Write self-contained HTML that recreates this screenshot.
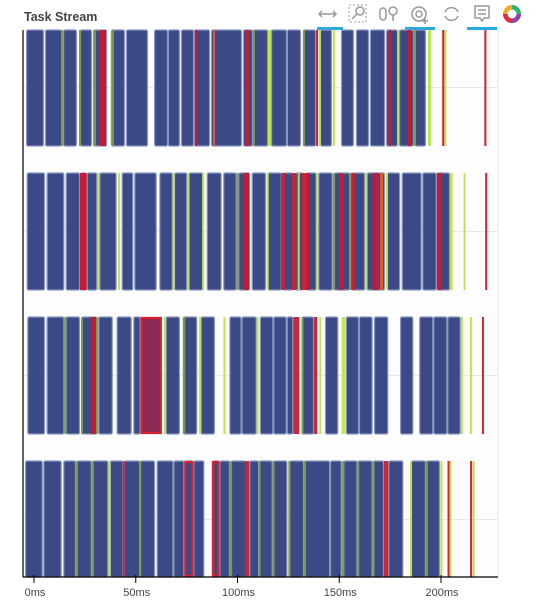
<!DOCTYPE html>
<html><head><meta charset="utf-8"><style>
body{margin:0;background:#fff;width:548px;height:610px;overflow:hidden;font-family:"Liberation Sans",sans-serif}
svg{display:block}
</style></head><body>
<svg id="chart" width="548" height="610" xmlns="http://www.w3.org/2000/svg">
<text x="24" y="21" font-size="12.5" font-weight="bold" fill="#444">Task Stream</text>
<g fill="none" stroke="#999" stroke-width="1.5">
 <g><line x1="319" y1="14" x2="336" y2="14"/><path d="M322 11 L319 14 L322 17 M333 11 L336 14 L333 17"/></g>
 <rect x="317" y="27" width="26" height="3" fill="#26aae1" stroke="none"/>
 <g><rect x="349" y="5" width="17" height="17" stroke-dasharray="2 2" stroke-width="1"/><circle cx="360" cy="11" r="4"/><line x1="357" y1="14" x2="352" y2="19"/></g>
 <g><rect x="380" y="8" width="6" height="12" rx="3"/><circle cx="393" cy="11" r="4"/><line x1="393" y1="15" x2="393" y2="21"/></g>
 <g><circle cx="419" cy="14" r="7"/><circle cx="419" cy="14" r="3"/><path d="M425 18 v6 M422 21 h6"/></g>
 <rect x="405" y="27" width="30" height="3" fill="#26aae1" stroke="none"/>
 <g><path d="M445 12 A7 7 0 0 1 458 12 M458 16 A7 7 0 0 1 445 16"/></g>
 <g><path d="M475 6 h14 v12 h-5 l-2 3 l-2 -3 h-5 z M478 10 h8 M478 14 h8"/></g>
 <rect x="467" y="27" width="30" height="3" fill="#26aae1" stroke="none"/>
 <g stroke="none">
  <circle cx="512" cy="14" r="9" fill="#f5a623"/><path d="M512 5 A9 9 0 0 1 521 14 L512 14Z" fill="#2bb673"/><path d="M521 14 A9 9 0 0 1 512 23 L512 14Z" fill="#8e44ad"/><path d="M512 23 A9 9 0 0 1 503 14 L512 14Z" fill="#e5283e"/><circle cx="512" cy="14" r="4.5" fill="#fff"/>
 </g>
</g>
<rect x="23" y="30" width="475" height="547" fill="#fdfdfd"/>
<line x1="498" y1="30" x2="498" y2="577" stroke="#e6e6e6"/>
<g id="grid"></g>
<g id="marks"></g>
<g id="axes"></g>
</svg>
<script>
const tickValues=[0,50,100,150,200];
const tickLabels=["0ms","50ms","100ms","150ms","200ms"];
const workers=["w0","w1","w2","w3"];
const blue0=[[-3.9,4.9],[5.4,13.8],[14.3,21.1],[22.6,28.5],[29,35.9],[37.8,44.7],[45.2,56],[59,65.8],[65.8,71.7],[72.2,78.6],[78.6,86.5],[87,102.2],[102.7,107.6],[107.6,115],[116.5,124.3],[124.3,131.2],[132.2,138.6],[140.5,146.4],[150.9,157.2],[158.2,164.6],[165.1,172.5],[173,178.9],[179.4,186.7],[187.2,192.6]];
const color0=[[13.3,14.1,"g"],[22.1,22.9,"g"],[29.5,30.3,"g"],[32.4,35.4,"r"],[38.3,39.1,"g"],[79.1,80.1,"r"],[88,89,"o"],[103.7,105.7,"r"],[107.6,108.4,"g"],[115,116.5,"l"],[132.2,133,"g"],[138.6,139.6,"r"],[140,141,"l"],[146.9,147.9,"l"],[174.2,175.4,"r"],[178.4,179.2,"l"],[183.8,185.3,"r"],[186.7,187.5,"g"],[193.6,195.1,"l"],[200.6,201.6,"r"],[201.7,202.5,"l"],[221.3,222.3,"r"]];
const blue1=[[-3.6,5.4],[6.2,14.9],[15.6,22.6],[22.6,25.9],[25.9,31.1],[32.1,40.6],[43.1,48.8],[49.3,60.3],[61.6,68.2],[68.8,75.3],[76,83.2],[84.9,92.2],[93,99.6],[100.4,106.1],[107,114],[114.6,121.7],[122.5,127.4],[128.3,132.3],[133.7,138.9],[139.7,146.8],[147.4,155.3],[156.1,162.7],[163.5,172.5],[173.3,179.9],[180.7,190.5],[190.8,197.9],[197.9,204.4]];
const color1=[[22.6,25.9,"r"],[31.1,31.9,"l"],[41.3,42.3,"l"],[68.2,69,"l"],[75.3,76.1,"l"],[82.6,83.6,"l"],[99.6,100.4,"g"],[102.7,105.7,"r"],[114.4,115.2,"l"],[121.4,123.3,"r"],[126.8,128.8,"r"],[129.6,130.4,"l"],[131.5,135.1,"r"],[138.6,139.4,"l"],[146.9,147.7,"g"],[149.9,151.8,"r"],[154.8,155.6,"g"],[155.8,157.7,"r"],[162.7,163.5,"l"],[166.4,169.2,"r"],[170,171.5,"o"],[173,173.8,"l"],[198,200.3,"r"],[204.4,205.7,"l"],[211.1,212.1,"l"],[221.7,222.7,"r"]];
const blue2=[[-3.3,5.4],[6.2,14.9],[15.6,22.6],[23.4,30.8],[31.6,38.7],[40.6,48],[48.8,52.4],[64.7,71.7],[73.1,80.2],[81.9,88.9],[96,102],[102,109.4],[111,117.6],[117.6,124.2],[124.2,127.4],[131.5,137.6],[143,149.5],[153.2,159.7],[159.7,166.4],[167.1,174.1],[179.9,186.4],[189.3,196.2],[196.2,203.1],[203.1,209.7]];
const color2=[[52.4,62.8,"m"],[14.9,15.7,"g"],[23.1,23.9,"g"],[27.9,30.5,"r"],[30.5,31.3,"g"],[63.9,64.7,"l"],[73.4,74.2,"g"],[81.1,81.9,"l"],[93.1,94.1,"l"],[109.4,110.2,"l"],[127.4,130.4,"r"],[131.5,132.3,"g"],[137.6,139.2,"r"],[140.2,141,"l"],[151.2,152.8,"l"],[209.8,210.8,"l"],[214.2,215.2,"l"],[220.1,221.1,"r"]];
const blue3=[[-4.4,4.3],[4.6,13.6],[14.4,20.6],[21,28.4],[28.8,36.5],[37.3,43.9],[44.2,52.1],[52.1,59.5],[60.3,68.5],[68.5,73.9],[73.9,78.3],[78.3,83.7],[87.6,91.1],[91.1,96.3],[96.8,104.2],[105.8,110.6],[110.6,117.3],[117.3,124.5],[125.5,132.7],[132.7,145.5],[145.5,151.2],[152,158.9],[158.9,166.4],[166.7,172],[174.1,181.5],[185.1,192.6],[192.6,199.5]];
const color3=[[73.9,78.3,"R"],[87.3,88.1,"o"],[87.6,91.1,"R"],[103.7,105.8,"r"],[172,174.1,"r"],[20.6,21.4,"g"],[28.4,29.2,"g"],[36.6,37.6,"l"],[43.6,44.6,"r"],[51.7,52.5,"g"],[96.3,97.1,"g"],[110.4,111.2,"g"],[117.3,118.1,"g"],[125,125.8,"g"],[132.7,133.5,"g"],[151.2,152,"g"],[158.9,159.7,"g"],[166.4,167.2,"g"],[184.8,185.6,"l"],[192.6,193.4,"g"],[199.7,200.7,"l"],[203.2,204.2,"r"],[204.2,205,"l"],[214.3,215.3,"r"],[215.6,216.4,"l"]];
const blues=[blue0,blue1,blue2,blue3];
const colors=[color0,color1,color2,color3];
const NS="http://www.w3.org/2000/svg";
const X0=23,X1=498,Y0=30,Y1=577;
function xs(v){return 34+v*2.035;}
// row i centred at 87 + i*144 (categorical y axis)
function yc(i){return 87+i*144;}
const barHalf=58;
const pal={g:"#7c9b3c",l:"#bde34a",r:"#c8192e",o:"#e8552e",m:"#8b2a55",R:"#c8192e"};
function mk(t,a,p){const e=document.createElementNS(NS,t);for(const k in a)e.setAttribute(k,a[k]);p.appendChild(e);return e;}
const grid=document.getElementById('grid'),marks=document.getElementById('marks'),axes=document.getElementById('axes');
workers.forEach((w,i)=>{
 const gl=mk('line',{x1:X0,x2:X1,y1:yc(i)+0.5,y2:yc(i)+0.5,stroke:'#e8e8e8'},grid);
 
 
 const top=Math.max(Y0,yc(i)-barHalf),bot=Math.min(Y1,yc(i)+barHalf+1);
 const g=mk('g',{},marks);
 
 
 blues[i].forEach(b=>{
  const x=Math.max(X0+2,xs(b[0])),r=mk('rect',{x:x+0.5,y:top,width:Math.max(1,xs(b[1])-x-1),height:bot-top,fill:'#3b4a86',stroke:'#8a95c0','stroke-width':1.2,rx:1.5},g);
  
  
 });
 colors[i].forEach(c=>{
  const x=xs(c[0]),wd=Math.max(2,xs(c[1])-x);
  let r;
  if(c[2]==='m'||c[2]==='R'){r=mk('rect',{x:x+1,y:top+1,width:wd-2,height:bot-top-2,fill:c[2]==='m'?'#8b2a55':'none',stroke:'#d8202e','stroke-width':2.2},g);}
  else r=mk('rect',{x:x,y:top,width:wd,height:bot-top,fill:pal[c[2]],opacity:0.95},g);
  
  
 });
});
const ya=mk('line',{x1:X0,x2:X0,y1:Y0,y2:Y1,stroke:'#000','stroke-width':1.2},axes);


const xa=mk('line',{x1:X0,x2:X1,y1:Y1,y2:Y1,stroke:'#000','stroke-width':1.2},axes);


tickValues.forEach((v,i)=>{
 const t=mk('line',{x1:xs(v),x2:xs(v),y1:Y1-2,y2:Y1+6,stroke:'#000','stroke-width':1},axes);
 
 
 const l=mk('text',{x:xs(v)+1,y:Y1+19,'text-anchor':'middle','font-size':11,fill:'#444'},axes);
 l.textContent=tickLabels[i];
 
 
});
</script>
</body></html>
